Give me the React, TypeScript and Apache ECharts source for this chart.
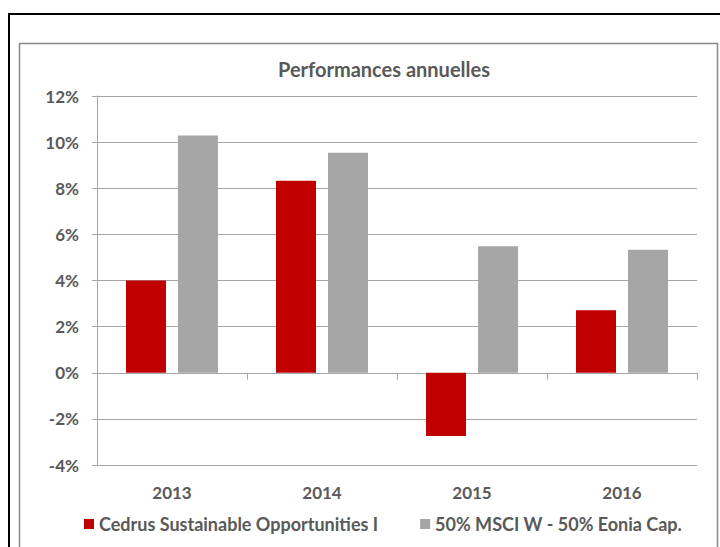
import React, { useEffect, useRef } from "react";
import * as echarts from "echarts";

const years = ["2013", "2014", "2015", "2016"];
const cedrus = [4.0, 8.33, -2.74, 2.71];
const benchmark = [10.29, 9.54, 5.48, 5.33];
const seriesNames = ["Cedrus Sustainable Opportunities I", "50% MSCI W - 50% Eonia Cap."];
const titleText = "Performances annuelles";

const FONT = "Lato";
const TXT = "#595959";
const GRID = "#A6A6A6";

export default function App() {
  const ref = useRef<HTMLDivElement>(null);
  useEffect(() => {
    document.body.style.margin = "0";
    const chart = echarts.init(ref.current!, null, { renderer: "svg" });
    chart.setOption({
      animation: false,
      backgroundColor: "#fff",
      textStyle: { fontFamily: FONT },
      graphic: [
        {
          type: "rect",
          shape: { x: 9, y: 14, width: 800, height: 700 },
          style: { fill: "none", stroke: "#000", lineWidth: 2 },
          silent: true,
        },
        {
          type: "rect",
          shape: { x: 19.5, y: 43.5, width: 698, height: 700 },
          style: { fill: "none", stroke: "#898989", lineWidth: 1.5 },
          silent: true,
        },
        {
          type: "text",
          x: 384,
          y: 69,
          style: {
            text: titleText,
            textAlign: "center",
            textVerticalAlign: "middle",
            fill: TXT,
            font: `bold 20px ${FONT}`,
          },
          silent: true,
        },
      ],
      grid: { left: 97, right: 23, top: 96, bottom: 82, containLabel: false },
      legend: {
        left: 84,
        top: 515,
        padding: 0,
        itemWidth: 10,
        itemHeight: 10,
        itemGap: 42,
        icon: "rect",
        data: seriesNames,
        textStyle: { color: TXT, fontSize: 18, fontWeight: "bold", fontFamily: FONT },
      },
      xAxis: [
        {
          type: "category",
          data: years,
          position: "bottom",
          axisLine: { show: false, onZero: false },
          axisTick: { show: false },
          axisLabel: { color: TXT, fontSize: 17, fontWeight: "bold", margin: 19, fontFamily: FONT },
          splitLine: { show: false },
        },
        {
          type: "category",
          data: years,
          position: "bottom",
          axisLine: { show: true, onZero: true, lineStyle: { color: GRID, width: 1 } },
          axisTick: { show: true, length: 7, interval: 0, lineStyle: { color: GRID } },
          axisLabel: { show: false },
          splitLine: { show: false },
        },
      ],
      yAxis: {
        type: "value",
        min: -4,
        max: 12,
        interval: 2,
        axisLine: { show: true, lineStyle: { color: GRID } },
        axisTick: { show: true, length: 5, lineStyle: { color: GRID } },
        axisLabel: {
          formatter: "{value}%",
          color: TXT,
          fontSize: 17,
          fontWeight: "bold",
          margin: 18,
          fontFamily: FONT,
        },
        splitLine: { show: true, lineStyle: { color: GRID, width: 1 } },
      },
      series: [
        {
          name: seriesNames[0],
          type: "bar",
          xAxisIndex: 0,
          data: cedrus,
          barWidth: 40,
          barGap: "30%",
          itemStyle: { color: "#C00000" },
        },
        {
          name: seriesNames[1],
          type: "bar",
          xAxisIndex: 0,
          data: benchmark,
          barWidth: 40,
          barGap: "30%",
          itemStyle: { color: "#A6A6A6" },
        },
      ],
    });
    return () => chart.dispose();
  }, []);
  return <div ref={ref} style={{ position: "absolute", left: 0, top: 0, width: 720, height: 547 }} />;
}
